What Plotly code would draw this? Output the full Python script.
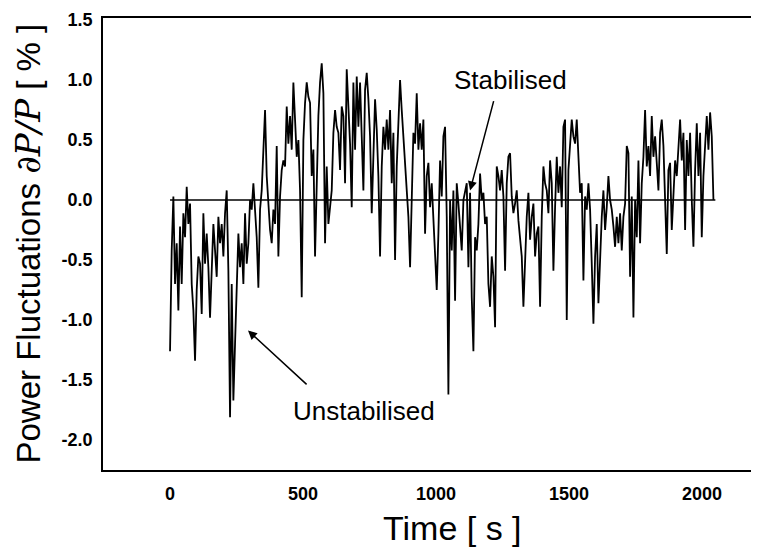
import numpy as np
import plotly.graph_objects as go

dt = 6.266

seg1 = [-1.26, -0.42, 0.03, -0.70, -0.36, -0.92, -0.22, -0.70, -0.11, -0.31,
        0.11, -0.20, -0.03, -0.70, -0.92, -1.34, -0.75, -0.47, -0.53, -0.95,
        -0.11, -0.53, -0.28, -0.56, -0.98, -0.61, -0.20, -0.42, -0.64, -0.14,
        -0.36, -0.20, -0.47, -0.11, 0.08, -0.59, -1.81, -0.70, -1.67, -1.20,
        -0.70, -0.28, -0.56, -0.36, -0.70, -0.11, -0.53, -0.36, 0.00, -0.08,
        0.14, -0.14, -0.31, -0.73, -0.08, 0.08, 0.36, 0.75, 0.20, -0.06,
        -0.25, -0.36, -0.08, -0.20, 0.45, -0.47, 0.03, 0.25, 0.33, 0.28,
        0.78, 0.47, 0.70, 0.42, 0.98, 0.67, 0.36, 0.50, 0.08, -0.81,
        0.50, 0.81, 0.98, 0.86, 0.81, 0.20, 0.42]

seg2 = [-0.47, 0.06, 0.70, 0.98, 1.14, 0.89, -0.36, 0.28, -0.20, -0.06,
        0.08, 0.56, 0.75, 0.61, 0.56, 0.25, 0.78, 0.70, 0.14, 1.09,
        0.75, 0.47, -0.06, 0.98, 0.42, 1.03, 0.61, 0.98, 0.53, 0.08,
        0.92, 1.06, 0.84, 0.53, -0.11, 0.45, 0.84, 0.59, 0.20, -0.47,
        0.28, 0.61, 0.42, 0.67, 0.42, 0.75, 0.14, 0.56, -0.50, 0.28,
        0.70, 1.00, 0.75, 0.53, 0.28, 0.08, -0.14, -0.56, 0.08, 0.56,
        0.47, 0.89, 0.42, 0.64, 0.42, 0.67, -0.28, 0.20, 0.31, -0.06,
        0.14, -0.20, -0.42, -0.75, -0.28, 0.33, 0.03, 0.53, 0.61, -0.14,
        -1.62, 0.00, -0.42, 0.08, -0.84, 0.14, -0.03]

seg3 = [-0.20, -0.42, 0.00, 0.08, 0.14, -0.56, 0.06, -0.81, -1.26, -0.31,
        -0.42, -0.20, 0.22, 0.00, 0.06, -0.20, -0.14, -0.70, -0.89, -0.47,
        -0.64, -1.06, 0.28, 0.20, 0.08, 0.25, 0.03, -0.59, 0.14, 0.36,
        0.39, 0.03, -0.11, -0.03, 0.08, -0.17, -0.31, -0.47, -0.89, -0.42,
        -0.14, 0.06, -0.33, -0.14, -0.03, -0.47, -0.28, -0.22, -0.89, -0.14,
        0.28, 0.14, 0.08, -0.11, 0.33, 0.14, -0.59, -0.06, 0.36, 0.06,
        0.28, -0.06, 0.61, 0.67, -1.00, 0.25, 0.50, 0.67, 0.53, 0.47,
        0.67, 0.42, 0.06, 0.14, -0.67, 0.03, -0.08, 0.14, -0.08, -0.53,
        -1.03, -0.47, -0.20, -0.86, -0.47, -0.14, 0.08]

seg4 = [-0.25, -0.06, 0.20, 0.00, -0.08, -0.22, -0.39, -0.14, -0.36, -0.11,
        -0.42, -0.14, -0.03, 0.45, 0.39, -0.64, 0.03, -0.98, 0.00, -0.31,
        0.33, -0.36, 0.14, 0.36, 0.75, 0.28, 0.45, 0.20, 0.70, 0.36,
        0.53, 0.31, 0.08, 0.56, 0.67, 0.45, 0.00, -0.45, 0.25, 0.31,
        -0.25, 0.06, 0.33, 0.20, 0.42, 0.67, 0.33, 0.56, -0.25, 0.50,
        0.20, 0.56, 0.00, -0.39, 0.25, 0.64, 0.20, 0.56, -0.31, 0.20,
        0.45, 0.70, 0.42, 0.73, 0.53, 0.00]

power = seg1 + seg2 + seg3 + seg4
time = [i * dt for i in range(len(power))]

ref_x = [0, 2050]
ref_y = [0, 0]

x_ticks = [0, 500, 1000, 1500, 2000]
x_tick_text = ["0", "500", "1000", "1500", "2000"]
y_ticks = [-2.0, -1.5, -1.0, -0.5, 0.0, 0.5, 1.0, 1.5]
y_tick_text = ["-2.0", "-1.5", "-1.0", "-0.5", "0.0", "0.5", "1.0", "1.5"]

SANS = "Liberation Sans, Arial, sans-serif"

fig = go.Figure()
fig.add_trace(go.Scatter(x=time, y=power, mode="lines",
                         line=dict(color="black", width=1.8), showlegend=False))
fig.add_trace(go.Scatter(x=ref_x, y=ref_y, mode="lines",
                         line=dict(color="black", width=1.6), showlegend=False))

# page has an 8px body margin, so the figure is 8px smaller and offset
fig.update_layout(
    width=751, height=540,
    margin=dict(l=95, r=0, t=10, b=78),
    paper_bgcolor="white", plot_bgcolor="white",
    font=dict(family=SANS, color="black"),
    xaxis=dict(range=[-252, 2214], showgrid=False, zeroline=False,
               showline=True, mirror=True, linecolor="black", linewidth=1.5,
               ticks="", tickvals=x_ticks, ticktext=x_tick_text,
               tickfont=dict(family=SANS, size=18, weight="bold"),
               ticklabelstandoff=7),
    yaxis=dict(range=[-2.25, 1.517], showgrid=False, zeroline=False,
               showline=True, mirror=False, linecolor="black", linewidth=1.5,
               ticks="", tickvals=y_ticks, ticktext=y_tick_text,
               tickfont=dict(family=SANS, size=18, weight="bold"),
               ticklabelstandoff=5),
)

# axis titles
fig.add_annotation(xref="paper", yref="paper", x=0.5335, y=-0.128,
                   xanchor="center", yanchor="middle", showarrow=False,
                   text="Time [ s ]", font=dict(family=SANS, size=34))
fig.add_annotation(xref="paper", yref="paper", x=-0.115, y=0.5,
                   xanchor="center", yanchor="middle", showarrow=False, textangle=-90,
                   text=("Power Fluctuations "
                         "<span style='font-family:DejaVu Serif;font-size:34px'><i>∂P/P</i></span>"
                         " [ % ]"),
                   font=dict(family=SANS, size=33))

# labels with arrows
fig.add_annotation(x=1278, y=1.004, xref="x", yref="y", showarrow=False,
                   text="Stabilised", font=dict(family=SANS, size=26))
fig.add_annotation(x=1128, y=0.08, ax=1218, ay=0.837, xref="x", yref="y",
                   axref="x", ayref="y", text="", showarrow=True,
                   arrowhead=2, arrowsize=1.2, arrowwidth=1.5, arrowcolor="black")
fig.add_annotation(x=729, y=-1.755, xref="x", yref="y", showarrow=False,
                   text="Unstabilised", font=dict(family=SANS, size=26))
fig.add_annotation(x=293, y=-1.088, ax=519, ay=-1.548, xref="x", yref="y",
                   axref="x", ayref="y", text="", showarrow=True,
                   arrowhead=2, arrowsize=1.2, arrowwidth=1.5, arrowcolor="black")

fig.write_html("out.html")
